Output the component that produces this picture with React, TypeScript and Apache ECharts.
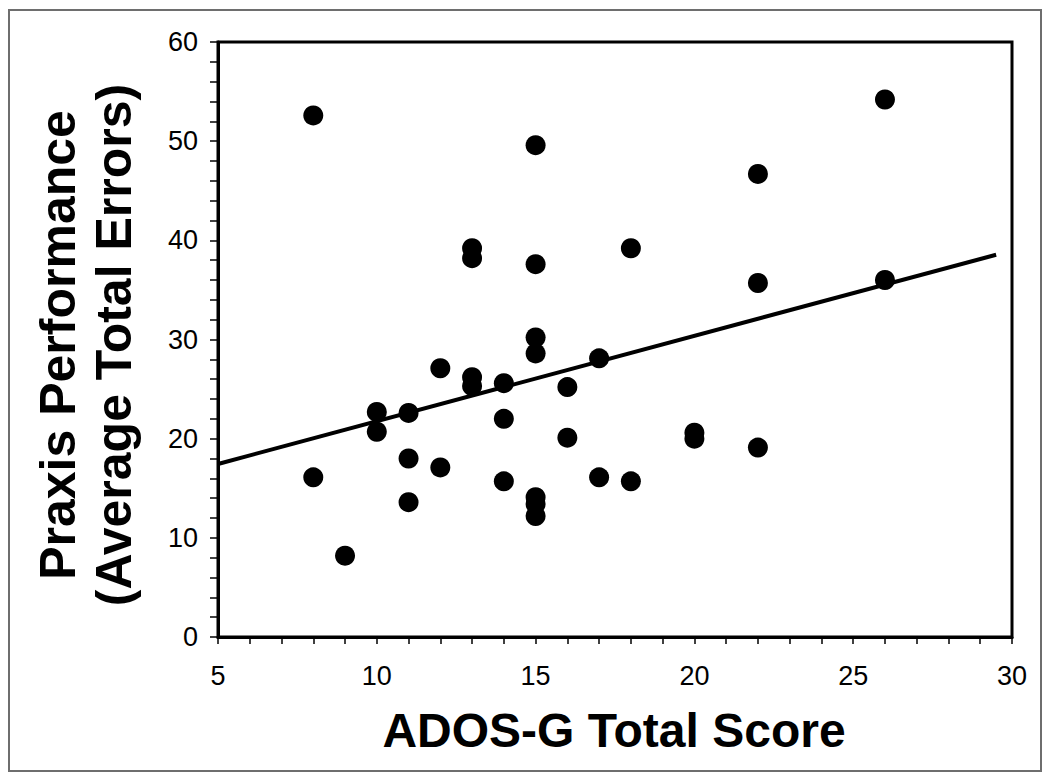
import React, { useEffect, useRef } from "react";
import * as echarts from "echarts";

const adosScore = [8, 8, 9, 10, 10, 11, 11, 11, 12, 12, 13, 13, 13, 13, 14, 14, 14, 15, 15, 15, 15, 15, 15, 15, 16, 16, 17, 17, 18, 18, 20, 20, 22, 22, 22, 26, 26];
const praxisErrors = [52.6, 16.1, 8.2, 22.7, 20.7, 22.6, 18.0, 13.6, 27.1, 17.1, 39.2, 38.2, 26.2, 25.3, 25.6, 22.0, 15.7, 49.6, 37.6, 30.2, 28.6, 14.1, 13.4, 12.2, 25.2, 20.1, 28.1, 16.1, 39.2, 15.7, 20.6, 20.0, 46.7, 35.7, 19.1, 54.2, 36.0];
const fitX = [5, 29.5];
const fitY = [17.45, 38.55];
const xTicks = [5, 10, 15, 20, 25, 30];
const yTicks = [0, 10, 20, 30, 40, 50, 60];

export default function App() {
  const ref = useRef<HTMLDivElement>(null);
  useEffect(() => {
    const chart = echarts.init(ref.current!, null, { renderer: "svg" });
    const font = "'Liberation Sans', Arial, Helvetica, sans-serif";
    chart.setOption({
      animation: false,
      backgroundColor: "#fff",
      textStyle: { fontFamily: font },
      grid: {
        left: 218,
        top: 42,
        width: 794,
        height: 595,
        show: true,
        borderColor: "#000",
        borderWidth: 3,
        backgroundColor: "transparent",
      },
      graphic: [
        {
          type: "rect",
          shape: { x: 9, y: 10, width: 1032, height: 761 },
          style: { fill: "none", stroke: "#6e6e6e", lineWidth: 2 },
          silent: true,
        },
        {
          type: "text",
          x: 58,
          y: 345,
          rotation: Math.PI / 2,
          style: {
            text: "Praxis Performance",
            font: `bold 50px ${font}`,
            fill: "#000",
            align: "center",
            verticalAlign: "middle",
          },
        },
        {
          type: "text",
          x: 114,
          y: 345,
          rotation: Math.PI / 2,
          style: {
            text: "(Average Total Errors)",
            font: `bold 50px ${font}`,
            fill: "#000",
            align: "center",
            verticalAlign: "middle",
          },
        },
        {
          type: "text",
          x: 614,
          y: 730,
          style: {
            text: "ADOS-G Total Score",
            font: `bold 48px ${font}`,
            fill: "#000",
            align: "center",
            verticalAlign: "middle",
          },
        },
      ],
      xAxis: {
        type: "value",
        min: xTicks[0],
        max: xTicks[xTicks.length - 1],
        interval: 5,
        axisLine: { show: true, onZero: false, lineStyle: { color: "#000", width: 3 } },
        axisTick: { show: true, inside: false, length: 7, lineStyle: { color: "#000", width: 1.5 } },
        minorTick: { show: true, splitNumber: 5, length: 7, lineStyle: { color: "#000", width: 1.5 } },
        splitLine: { show: false },
        axisLabel: { color: "#000", fontSize: 27, margin: 25, fontFamily: font },
      },
      yAxis: {
        type: "value",
        min: yTicks[0],
        max: yTicks[yTicks.length - 1],
        interval: 10,
        axisLine: { show: true, onZero: false, lineStyle: { color: "#000", width: 3 } },
        axisTick: { show: true, inside: false, length: 8, lineStyle: { color: "#000", width: 1.5 } },
        minorTick: { show: true, splitNumber: 5, length: 8, lineStyle: { color: "#000", width: 1.5 } },
        splitLine: { show: false },
        axisLabel: { color: "#000", fontSize: 27, margin: 20, fontFamily: font },
      },
      series: [
        {
          type: "line",
          data: fitX.map((x, i) => [x, fitY[i]]),
          showSymbol: false,
          symbol: "none",
          lineStyle: { color: "#000", width: 4 },
          z: 2,
        },
        {
          type: "scatter",
          data: adosScore.map((x, i) => [x, praxisErrors[i]]),
          symbol: "circle",
          symbolSize: 20,
          itemStyle: { color: "#000", opacity: 1 },
          z: 3,
        },
      ],
    });
    return () => chart.dispose();
  }, []);
  return (
    <div
      ref={ref}
      style={{ position: "absolute", left: 0, top: 0, width: 1050, height: 781 }}
    />
  );
}
